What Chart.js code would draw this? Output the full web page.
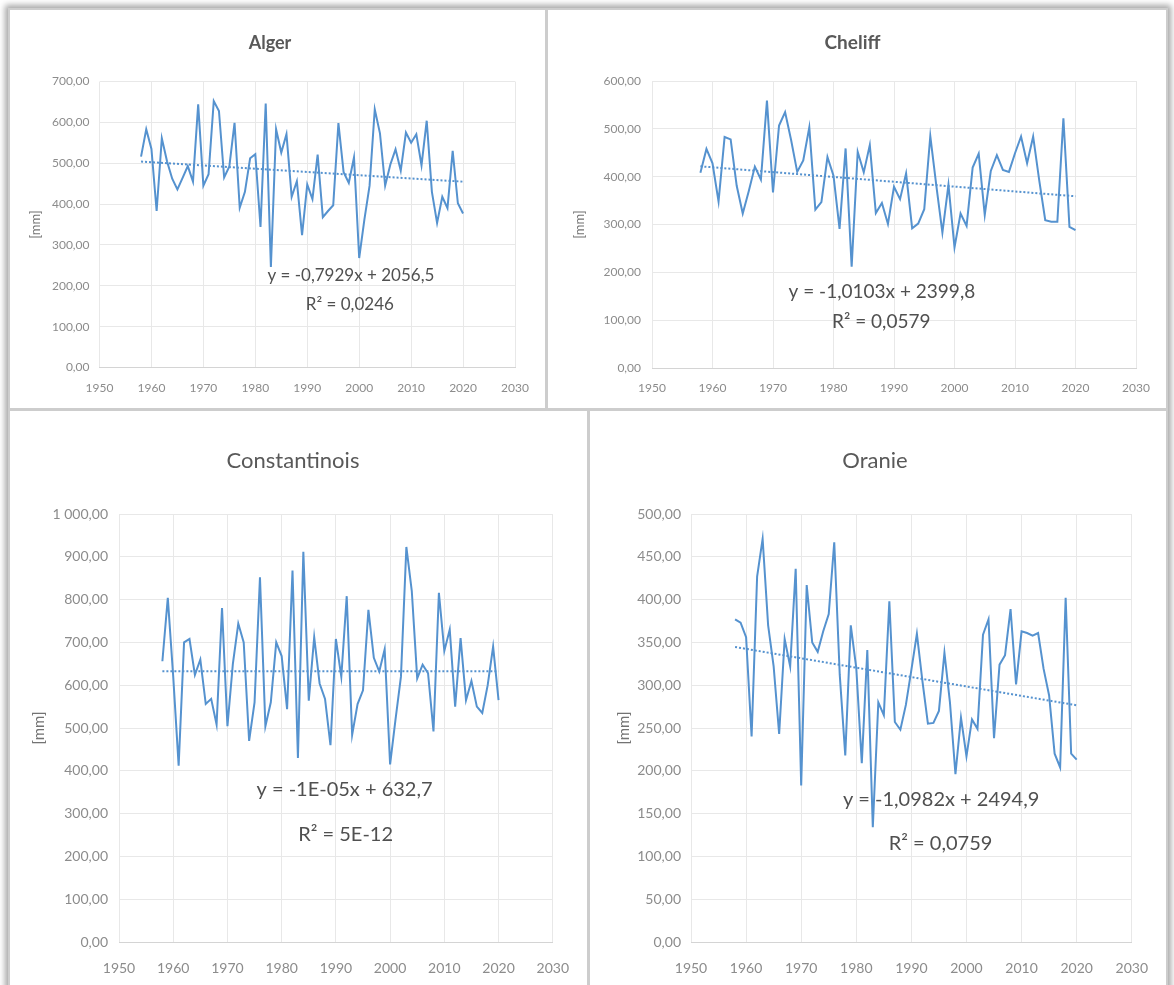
<!DOCTYPE html>
<html>
<head>
<meta charset="utf-8">
<title>Pluviométrie annuelle 1958-2020</title>
<script src="https://cdn.jsdelivr.net/npm/chart.js@4.4.0/dist/chart.umd.min.js"></script>
<style>
  html, body { margin: 0; padding: 0; background: #fff; }
  body { width: 1174px; height: 985px; position: relative; overflow: hidden; }
  #frame { position: absolute; left: 8px; top: 8px; width: 1160px; height: 1000px; background: #cdcdcd;
           box-shadow: 0 0 6px 3px rgba(0,0,0,0.35); }
  .panel { position: absolute; background: #fff; }
  .panel canvas { display: block; }
</style>
</head>
<body>
<div id="frame"></div>
<div class="panel" style="left:10px;top:10px;width:535px;height:398px"><canvas id="alger" width="535" height="398"></canvas></div>
<div class="panel" style="left:548px;top:10px;width:618px;height:398px"><canvas id="cheliff" width="618" height="398"></canvas></div>
<div class="panel" style="left:10px;top:411px;width:577px;height:574px"><canvas id="constantinois" width="577" height="574"></canvas></div>
<div class="panel" style="left:590px;top:411px;width:576px;height:574px"><canvas id="oranie" width="576" height="574"></canvas></div>
<script>
// hydrological years
var years = [1958, 1959, 1960, 1961, 1962, 1963, 1964, 1965, 1966, 1967, 1968, 1969,
  1970, 1971, 1972, 1973, 1974, 1975, 1976, 1977, 1978, 1979,
  1980, 1981, 1982, 1983, 1984, 1985, 1986, 1987, 1988, 1989,
  1990, 1991, 1992, 1993, 1994, 1995, 1996, 1997, 1998, 1999,
  2000, 2001, 2002, 2003, 2004, 2005, 2006, 2007, 2008, 2009,
  2010, 2011, 2012, 2013, 2014, 2015, 2016, 2017, 2018, 2019, 2020];

// annual rainfall [mm]
var alger = [516, 583, 535, 383, 561, 505, 462, 436, 464, 493, 455, 644,
  445, 473, 652, 628, 465, 492, 599, 391, 430, 512,
  522, 344, 646, 246, 583, 526, 571, 418, 456, 324,
  448, 412, 521, 368, 383, 397, 598, 478, 452, 514,
  268, 362, 445, 632, 573, 445, 497, 534, 482, 575,
  550, 571, 495, 604, 430, 354, 418, 390, 530, 402, 377];

var cheliff = [408, 458, 428, 348, 483, 478, 381, 323, 370, 421, 394, 559,
  367, 507, 535, 476, 410, 434, 503, 331, 347, 441,
  402, 291, 459, 212, 452, 409, 466, 324, 345, 301,
  379, 353, 407, 292, 302, 332, 485, 381, 283, 383,
  252, 323, 297, 419, 448, 320, 412, 445, 414, 410,
  449, 484, 428, 484, 393, 309, 306, 306, 522, 295, 288];

var constantinois = [656, 804, 620, 412, 700, 708, 624, 660, 556, 568, 508, 780,
  504, 650, 744, 700, 470, 560, 852, 504, 560, 700,
  668, 544, 868, 430, 912, 564, 712, 604, 568, 460,
  708, 620, 808, 484, 556, 588, 776, 664, 632, 684,
  415, 520, 620, 923, 820, 616, 648, 628, 492, 816,
  680, 730, 550, 710, 565, 610, 550, 535, 600, 690, 565];

var oranie = [377, 373, 356, 240, 427, 471, 370, 322, 243, 354, 322, 436,
  183, 417, 350, 339, 363, 383, 467, 312, 218, 370,
  320, 209, 341, 134, 280, 265, 398, 257, 248, 277,
  318, 360, 305, 255, 256, 270, 338, 280, 196, 262,
  217, 260, 249, 359, 377, 238, 324, 335, 389, 301,
  363, 361, 358, 361, 319, 288, 220, 204, 402, 220, 213];

// linear trend lines as printed on each chart
var trendSlope = [-0.7929, -1.0103, -0.00001, -1.0982];
var trendIntercept = [2056.5, 2399.8, 632.7, 2494.9];
var eqLabels = ['y = -0,7929x + 2056,5', 'y = -1,0103x + 2399,8', 'y = -1E-05x + 632,7', 'y = -1,0982x + 2494,9'];
var r2Labels = ['R\u00b2 = 0,0246', 'R\u00b2 = 0,0579', 'R\u00b2 = 5E-12', 'R\u00b2 = 0,0759'];

var titles = ['Alger', 'Cheliff', 'Constantinois', 'Oranie'];
var yMax = [700, 600, 1000, 500];
var yStep = [100, 100, 100, 50];
var xMin = 1950, xMax = 2030, xStep = 10;

var blue = '#5592cf';

function fmtFr(v) {
  var parts = v.toFixed(2).split('.');
  parts[0] = parts[0].replace(/\B(?=(\d{3})+(?!\d))/g, ' ');
  return parts.join(',');
}

// draws the trend equation and R² as text
var eqPlugin = {
  id: 'eqText',
  afterDatasetsDraw: function (chart, args, o) {
    var ctx = chart.ctx, xs = chart.scales.x, ys = chart.scales.y;
    ctx.save();
    ctx.font = o.size + 'px Lato';
    ctx.fillStyle = '#505050';
    ctx.textAlign = 'center';
    ctx.textBaseline = 'middle';
    ctx.fillText(o.eq, xs.getPixelForValue(o.eqAt[0]), ys.getPixelForValue(o.eqAt[1]));
    ctx.fillText(o.r2, xs.getPixelForValue(o.r2At[0]), ys.getPixelForValue(o.r2At[1]));
    ctx.restore();
  }
};

function makeChart(id, i, vals, look) {
  var first = years[0], last = years[years.length - 1];
  var trend = [
    { x: first, y: trendSlope[i] * first + trendIntercept[i] },
    { x: last, y: trendSlope[i] * last + trendIntercept[i] }
  ];
  return new Chart(document.getElementById(id).getContext('2d'), {
    type: 'line',
    data: {
      datasets: [{
        label: titles[i],
        data: years.map(function (yr, k) { return { x: yr, y: vals[k] }; }),
        borderColor: blue,
        borderWidth: 2,
        pointRadius: 0,
        tension: 0
      }, {
        label: 'Linéaire (' + titles[i] + ')',
        data: trend,
        borderColor: blue,
        borderWidth: 2,
        borderDash: [2, 2],
        pointRadius: 0
      }]
    },
    options: {
      responsive: false,
      animation: false,
      layout: { padding: { left: look.padL, right: look.padR, top: 0, bottom: 0 } },
      plugins: {
        legend: { display: false },
        tooltip: { enabled: false },
        title: {
          display: true,
          text: titles[i],
          color: '#595959',
          font: { family: 'Lato', size: look.titleSize, weight: look.titleWeight },
          padding: { top: look.titleTop, bottom: look.titleBottom }
        },
        eqText: { eq: eqLabels[i], r2: r2Labels[i], eqAt: look.eqAt, r2At: look.r2At, size: look.eqSize }
      },
      scales: {
        x: {
          type: 'linear',
          min: xMin, max: xMax,
          afterFit: function (s) { s.height = look.xH; },
          ticks: {
            stepSize: xStep,
            color: '#8c8c8c',
            padding: look.xPad,
            font: { family: 'Lato', size: look.tickSize },
            callback: function (v) { return String(v); }
          },
          grid: { color: '#e8e8e8', drawTicks: false },
          border: { color: '#d4d4d4' }
        },
        y: {
          min: 0, max: yMax[i],
          afterFit: function (s) { s.width = look.yW; },
          ticks: {
            stepSize: yStep[i],
            color: '#8c8c8c',
            padding: look.yPad,
            font: { family: 'Lato', size: look.tickSize },
            callback: function (v) { return fmtFr(v); }
          },
          grid: { color: '#e8e8e8', drawTicks: false },
          border: { display: false },
          title: {
            display: true,
            text: '[mm]',
            color: '#737373',
            font: { family: 'Lato', size: look.yTitleSize },
            padding: { top: 3, bottom: 3 }
          }
        }
      }
    },
    plugins: [eqPlugin]
  });
}

makeChart('alger', 0, alger, {
  padL: 15, padR: 30, yW: 74.5, xH: 40.5, xPad: 13, yPad: 10,
  titleSize: 18, titleWeight: 'bold', titleTop: 22.5, titleBottom: 27.4,
  tickSize: 12, yTitleSize: 13, eqSize: 17,
  eqAt: [1998.4, 226], r2At: [1998.2, 153]
});
makeChart('cheliff', 1, cheliff, {
  padL: 21, padR: 30, yW: 83, xH: 40, xPad: 13, yPad: 11,
  titleSize: 19, titleWeight: 'bold', titleTop: 21.5, titleBottom: 26.7,
  tickSize: 12, yTitleSize: 13, eqSize: 19,
  eqAt: [1988.0, 159], r2At: [1987.9, 96]
});
makeChart('constantinois', 2, constantinois, {
  padL: 17, padR: 28, yW: 92, xH: 43, xPad: 18, yPad: 11,
  titleSize: 22, titleWeight: 'normal', titleTop: 36.8, titleBottom: 39.8,
  tickSize: 14, yTitleSize: 15, eqSize: 20,
  eqAt: [1991.6, 357], r2At: [1991.8, 250]
});
makeChart('oranie', 3, oranie, {
  padL: 22, padR: 28, yW: 79, xH: 43, xPad: 18, yPad: 10,
  titleSize: 22, titleWeight: 'normal', titleTop: 36.8, titleBottom: 39.8,
  tickSize: 14, yTitleSize: 15, eqSize: 20,
  eqAt: [1995.4, 167], r2At: [1995.3, 115]
});
</script>
</body>
</html>
